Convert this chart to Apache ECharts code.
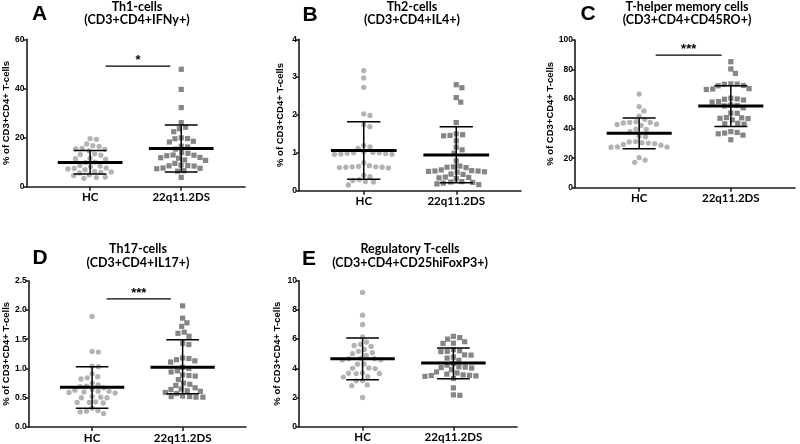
<!DOCTYPE html>
<html><head><meta charset="utf-8">
<script src="https://cdn.jsdelivr.net/npm/echarts@6/dist/echarts.min.js"></script>
<style>html,body{margin:0;padding:0;background:#fff}#c{width:800px;height:444px}</style>
</head><body><div id="c"></div>
<script>
// ---------- data ----------
const categories = ['HC', '22q11.2DS'];
const yAxisName = '% of CD3+CD4+ T-cells';
const panelLetters = ['A', 'B', 'C', 'D', 'E'];
const panelTitles = ['Th1-cells', 'Th2-cells', 'T-helper memory cells', 'Th17-cells', 'Regulatory T-cells'];
const panelSubtitles = ['(CD3+CD4+IFNy+)', '(CD3+CD4+IL4+)', '(CD3+CD4+CD45RO+)', '(CD3+CD4+IL17+)', '(CD3+CD4+CD25hiFoxP3+)'];

const hcA = [19.6, 19.3, 17.4, 16.7, 16.4, 15.6, 15.4, 15.2, 14.6, 13.4, 13.1, 12.8, 11.6, 11.4, 11.1, 10.0, 9.8, 8.6, 8.4, 8.2, 7.6, 7.4, 7.2, 6.9, 6.2, 6.0, 5.8, 5.6, 4.8, 4.6, 3.9, 3.7, 3.4];
const dsA = [47.8, 39.6, 32.2, 26.1, 24.2, 23.6, 22.4, 19.9, 19.6, 19.5, 18.5, 18.2, 16.5, 16.2, 15.3, 13.9, 13.6, 12.9, 12.8, 12.6, 11.9, 11.8, 11.6, 10.9, 10.7, 9.5, 8.8, 8.6, 8.5, 8.4, 7.6, 7.5, 7.3, 6.5, 6.3, 3.8];
const meanA = [9.9, 15.6];
const sdLowA = [5.2, 6.0];
const sdHighA = [14.7, 25.1];
const sigA = [1.17, 1.88, 49.1, '*'];

const hcB = [3.17, 2.98, 2.73, 2.03, 1.99, 1.74, 1.69, 1.20, 1.16, 1.12, 1.03, 1.01, 1.00, 1.00, 0.99, 0.98, 0.97, 0.96, 0.96, 0.74, 0.66, 0.64, 0.63, 0.63, 0.62, 0.62, 0.61, 0.60, 0.41, 0.37, 0.29, 0.27, 0.24, 0.23, 0.15];
const dsB = [2.80, 2.72, 2.46, 2.34, 1.80, 1.50, 1.48, 1.46, 1.45, 1.32, 1.15, 1.08, 0.99, 0.79, 0.65, 0.63, 0.62, 0.61, 0.55, 0.53, 0.52, 0.52, 0.51, 0.50, 0.49, 0.44, 0.43, 0.36, 0.35, 0.34, 0.32, 0.24, 0.23, 0.22, 0.20, 0.18, 0.16];
const meanB = [1.06, 0.94];
const sdLowB = [0.30, 0.21];
const sdHighB = [1.82, 1.69];

const hcC = [63.4, 54.9, 52.0, 48.5, 46.3, 44.7, 44.2, 44.2, 43.8, 43.0, 42.8, 42.1, 39.7, 39.5, 37.9, 34.8, 34.5, 31.2, 31.0, 30.5, 30.2, 29.8, 29.3, 28.8, 27.6, 27.5, 27.4, 20.3, 18.7, 17.2];
const dsC = [85.3, 80.4, 77.4, 70.3, 70.1, 70.0, 69.2, 69.0, 67.1, 66.8, 66.5, 60.6, 60.1, 59.9, 59.4, 58.3, 58.0, 56.0, 55.6, 55.4, 54.1, 50.6, 50.4, 47.5, 47.3, 47.0, 46.8, 45.9, 43.6, 43.3, 43.0, 38.0, 37.4, 37.0, 36.5, 35.6, 32.5];
const meanC = [36.8, 55.3];
const sdLowC = [26.4, 41.5];
const sdHighC = [47.2, 69.1];
const sigC = [1.18, 1.90, 89.8, '***'];

const hcD = [1.89, 1.29, 1.28, 1.04, 1.03, 0.91, 0.86, 0.84, 0.82, 0.75, 0.72, 0.70, 0.69, 0.67, 0.64, 0.63, 0.61, 0.61, 0.60, 0.59, 0.58, 0.52, 0.51, 0.50, 0.50, 0.43, 0.42, 0.42, 0.41, 0.32, 0.28, 0.27, 0.26, 0.23];
const dsD = [2.07, 1.86, 1.78, 1.72, 1.62, 1.60, 1.55, 1.43, 1.41, 1.18, 1.17, 1.15, 1.13, 1.11, 1.02, 1.00, 0.96, 0.94, 0.89, 0.88, 0.87, 0.81, 0.75, 0.73, 0.71, 0.67, 0.65, 0.64, 0.62, 0.61, 0.59, 0.57, 0.53, 0.52, 0.52, 0.51, 0.51];
const meanD = [0.68, 1.02];
const sdLowD = [0.32, 0.57];
const sdHighD = [1.03, 1.49];
const sigD = [1.16, 1.87, 2.19, '***'];

const hcE = [9.2, 7.64, 7.0, 6.15, 5.8, 5.64, 5.56, 5.5, 5.3, 5.16, 5.07, 5.0, 4.88, 4.68, 4.66, 4.65, 4.58, 4.56, 4.3, 4.28, 4.02, 4.0, 3.98, 3.68, 3.66, 3.65, 3.64, 3.42, 3.4, 3.16, 3.14, 2.86, 2.82, 2.0];
const dsE = [6.19, 6.10, 6.00, 5.82, 5.72, 5.70, 5.28, 5.20, 5.16, 5.14, 4.92, 4.90, 4.77, 4.70, 4.54, 4.32, 4.22, 4.10, 4.08, 4.05, 4.02, 3.90, 3.75, 3.68, 3.60, 3.55, 3.52, 3.50, 3.48, 3.45, 3.30, 2.66, 2.18, 2.15];
const meanE = [4.66, 4.36];
const sdLowE = [3.21, 3.28];
const sdHighE = [6.08, 5.39];

const yMaxes = [60, 4, 100, 2.5, 10];
const yIntervals = [20, 1, 20, 0.5, 2];
const yDecimals = [0, 0, 0, 1, 0];

// ---------- layout / style ----------
const FONT = 'Lato, "Open Sans", sans-serif';
const SANS = '"Liberation Sans", Arial, sans-serif';
const X_MIN = 0.3, X_MAX = 2.7;
const MEAN_HALF = 0.355, CAP_HALF = 0.18;
const layouts = [
  {left: 25, top: 39.3, width: 220, height: 147.4, nameGap: 15, letter: [39.5, 14.5]},
  {left: 299, top: 39.3, width: 222, height: 151.4, nameGap: 14, letter: [310, 15]},
  {left: 575, top: 40, width: 220, height: 147.7, nameGap: 20, letter: [588, 14.5]},
  {left: 26, top: 280.7, width: 220, height: 146.6, nameGap: 16, letter: [40, 258.5]},
  {left: 299, top: 280.7, width: 218, height: 146, nameGap: 17, letter: [309, 259]}
];
const titleY = [[7, 20], [7, 20], [7, 20], [248.5, 262.5], [248.5, 262.5]];

const panels = [
  {hc: hcA, ds: dsA, mean: meanA, lo: sdLowA, hi: sdHighA, sig: sigA},
  {hc: hcB, ds: dsB, mean: meanB, lo: sdLowB, hi: sdHighB, sig: null},
  {hc: hcC, ds: dsC, mean: meanC, lo: sdLowC, hi: sdHighC, sig: sigC},
  {hc: hcD, ds: dsD, mean: meanD, lo: sdLowD, hi: sdHighD, sig: sigD},
  {hc: hcE, ds: dsE, mean: meanE, lo: sdLowE, hi: sdHighE, sig: null}
];

// beeswarm offsets (in pixels -> axis units) computed from values
function swarm(values, pxY, pxX, d) {
  const order = values.map((v, i) => i).sort((a, b) => values[b] - values[a]);
  const placed = [];
  const off = new Array(values.length);
  for (const i of order) {
    const y = values[i] * pxY;
    const cands = [0];
    for (const p of placed) {
      const dy = Math.abs(p.y - y);
      if (dy < d) { const dx = Math.sqrt(d * d - dy * dy); cands.push(p.x + dx, p.x - dx); }
    }
    cands.sort((a, b) => Math.abs(a) - Math.abs(b));
    let chosen = 0;
    for (const c of cands) {
      if (placed.every(p => (p.x - c) ** 2 + (p.y - y) ** 2 >= d * d - 1e-6)) { chosen = c; break; }
    }
    placed.push({x: chosen, y: y});
    off[i] = chosen / pxX;
  }
  return off;
}

const grids = [], xAxes = [], yAxes = [], series = [], graphics = [];
const AXIS_COLOR = '#1a1a1a';

panels.forEach((p, k) => {
  const L = layouts[k];
  grids.push({left: L.left, top: L.top, width: L.width, height: L.height, containLabel: false});
  xAxes.push({
    type: 'value', gridIndex: k, min: X_MIN, max: X_MAX,
    axisLine: {show: true, lineStyle: {color: AXIS_COLOR, width: 1.6}},
    axisTick: {show: true, length: 4, customValues: [1, 2], lineStyle: {color: AXIS_COLOR, width: 1.5}},
    axisLabel: {customValues: [1, 2], formatter: v => categories[Math.round(v) - 1] || '',
      fontFamily: FONT, fontWeight: 'bold', fontSize: 11.5, color: '#000', margin: 5},
    splitLine: {show: false}
  });
  yAxes.push({
    type: 'value', gridIndex: k, min: 0, max: yMaxes[k], interval: yIntervals[k],
    name: yAxisName, nameLocation: 'middle', nameGap: L.nameGap,
    nameTextStyle: {fontFamily: SANS, fontWeight: 'bold', fontSize: 9.5, color: '#000'},
    axisLine: {show: true, lineStyle: {color: AXIS_COLOR, width: 1.6}},
    axisTick: {show: true, length: 3, lineStyle: {color: AXIS_COLOR, width: 1.5}},
    axisLabel: {formatter: v => v.toFixed(yDecimals[k]), fontFamily: SANS, fontWeight: 'bold', fontSize: 8.5, color: '#000', margin: 2},
    splitLine: {show: false}
  });
  const pxY = L.height / yMaxes[k];
  const pxX = L.width / (X_MAX - X_MIN);
  const offH = swarm(p.hc, pxY, pxX, 6.4);
  const offD = swarm(p.ds, pxY, pxX, 6.4);
  series.push({
    type: 'scatter', xAxisIndex: k, yAxisIndex: k, symbol: 'circle', symbolSize: 5.3,
    itemStyle: {color: '#a0a0a0'}, silent: true, z: 2,
    data: p.hc.map((v, i) => [1 + offH[i], v])
  });
  series.push({
    type: 'scatter', xAxisIndex: k, yAxisIndex: k, symbol: 'rect', symbolSize: 5.2,
    itemStyle: {color: '#666666'}, silent: true, z: 2,
    data: p.ds.map((v, i) => [2 + offD[i], v])
  });
  series.push({
    type: 'custom', xAxisIndex: k, yAxisIndex: k, z: 5, silent: true,
    data: [[1, p.mean[0], p.lo[0], p.hi[0]], [2, p.mean[1], p.lo[1], p.hi[1]]],
    encode: {x: 0, y: 1},
    renderItem: function (params, api) {
      const x = api.value(0), m = api.value(1), lo = api.value(2), hi = api.value(3);
      const a = api.coord([x - MEAN_HALF, m]), b = api.coord([x + MEAN_HALF, m]);
      const t1 = api.coord([x - CAP_HALF, hi]), t2 = api.coord([x + CAP_HALF, hi]);
      const b1 = api.coord([x - CAP_HALF, lo]), b2 = api.coord([x + CAP_HALF, lo]);
      const c = api.coord([x, 0]);
      const s = {stroke: '#000', lineWidth: 1.5};
      return {type: 'group', children: [
        {type: 'line', shape: {x1: c[0], y1: t1[1], x2: c[0], y2: b1[1]}, style: s},
        {type: 'line', shape: {x1: t1[0], y1: t1[1], x2: t2[0], y2: t2[1]}, style: s},
        {type: 'line', shape: {x1: b1[0], y1: b1[1], x2: b2[0], y2: b2[1]}, style: s},
        {type: 'line', shape: {x1: a[0], y1: a[1], x2: b[0], y2: b[1]}, style: {stroke: '#000', lineWidth: 3}}
      ]};
    }
  });
  if (p.sig) {
    series.push({
      type: 'custom', xAxisIndex: k, yAxisIndex: k, z: 5, silent: true,
      data: [[p.sig[0], p.sig[2], p.sig[1]]],
      encode: {x: 0, y: 1},
      renderItem: function (params, api) {
        const a = api.coord([api.value(0), api.value(1)]);
        const b = api.coord([api.value(2), api.value(1)]);
        return {type: 'group', children: [
          {type: 'line', shape: {x1: a[0], y1: a[1], x2: b[0], y2: b[1]}, style: {stroke: '#000', lineWidth: 1.3}},
          {type: 'text', x: (a[0] + b[0]) / 2, y: a[1] + 1,
            style: {text: p.sig[3], fill: '#000', font: 'bold 13px ' + SANS, textAlign: 'center', textVerticalAlign: 'bottom'}}
        ]};
      }
    });
  }
  const cx = L.left + L.width / 2 + 2;
  graphics.push({type: 'text', x: cx, y: titleY[k][0],
    style: {text: panelTitles[k], fill: '#000', font: 'bold 12.5px ' + FONT, textAlign: 'center', textVerticalAlign: 'middle'}});
  graphics.push({type: 'text', x: cx, y: titleY[k][1],
    style: {text: panelSubtitles[k], fill: '#000', font: 'bold 12.5px ' + FONT, textAlign: 'center', textVerticalAlign: 'middle'}});
  graphics.push({type: 'text', x: L.letter[0], y: L.letter[1],
    style: {text: panelLetters[k], fill: '#000', font: 'bold 21px ' + SANS, textAlign: 'center', textVerticalAlign: 'middle'}});
});

const chart = echarts.init(document.getElementById('c'), null, {renderer: 'canvas'});
chart.setOption({
  animation: false,
  backgroundColor: '#fff',
  grid: grids, xAxis: xAxes, yAxis: yAxes, series: series, graphic: graphics
});
</script></body></html>
